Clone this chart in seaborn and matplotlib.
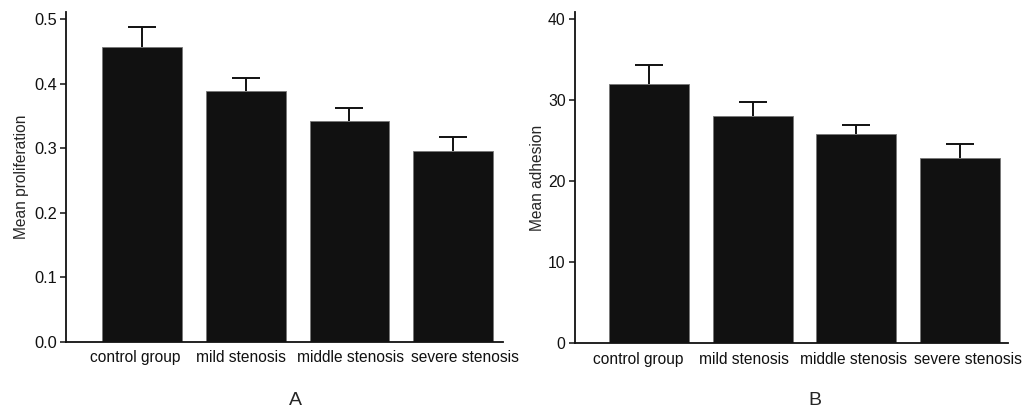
import numpy as np
import pandas as pd
import matplotlib
matplotlib.use("Agg")
import matplotlib.pyplot as plt
import matplotlib.transforms as mtransforms
import seaborn as sns

categories = ["control group", "mild stenosis", "middle stenosis", "severe stenosis"]
prolif_mean = [0.457, 0.388, 0.342, 0.295]
prolif_err = [0.031, 0.021, 0.021, 0.023]
adhes_mean = [32.0, 28.0, 25.8, 22.9]
adhes_err = [2.3, 1.8, 1.2, 1.7]
yticks_a = [0.0, 0.1, 0.2, 0.3, 0.4, 0.5]
yticks_b = [0, 10, 20, 30, 40]

sns.set_theme(style="ticks")
plt.rcParams['font.family'] = ['Liberation Sans', 'DejaVu Sans']

fig = plt.figure(figsize=(10.25, 4.11), dpi=100)
ax1 = fig.add_axes([0.0644, 0.168, 0.4263, 0.803])
ax2 = fig.add_axes([0.5607, 0.165, 0.4224, 0.806])

bar_color = "#111111"

def panel(ax, means, errs, ylabel, yticks, ytop, xlim, fmt, letter, letter_x,
          lpad, label_shift, ytick_fs):
    df = pd.DataFrame({"cat": categories, "val": means})
    sns.barplot(data=df, x="cat", y="val", color=bar_color, width=0.77,
                saturation=1, edgecolor="#777777", linewidth=0.6, ax=ax, errorbar=None,
                zorder=2)
    x = np.arange(len(categories))
    m = np.asarray(means)
    e = np.asarray(errs)
    ax.errorbar(x, m, yerr=[np.zeros(len(e)), e], fmt="none",
                ecolor="#111111", elinewidth=1.4, capsize=0, zorder=1)
    ax.plot(x, m + e, linestyle="none", marker="_", markersize=19.5,
            markeredgewidth=1.4, color="#111111", zorder=1)
    ax.set_ylim(0, ytop)
    ax.set_xlim(*xlim)
    ax.set_yticks(yticks)
    ax.set_yticklabels([fmt.format(t) for t in yticks], fontsize=ytick_fs)
    ax.set_xticklabels([])
    base = ax.get_xaxis_transform()
    for i, (cat, dx) in enumerate(zip(categories, label_shift)):
        tr = base + mtransforms.ScaledTranslation(dx / 100, -8.5 / 100, fig.dpi_scale_trans)
        ax.text(i, 0, cat, transform=tr, ha="center", va="top", fontsize=11.2,
                color="#111111")
    ax.set_xlabel("")
    ax.set_ylabel(ylabel, fontsize=11.2, labelpad=lpad)
    for s in ["top", "right"]:
        ax.spines[s].set_visible(False)
    for s in ["left", "bottom"]:
        ax.spines[s].set_linewidth(1.3)
        ax.spines[s].set_color("#111111")
    ax.tick_params(axis="x", length=0, colors="#111111")
    ax.tick_params(axis="y", length=4.5, width=1.1, pad=2, direction="out", colors="#111111")
    fig.text(letter_x, 1 - 400 / 411, letter, fontsize=14, ha="center", va="center")

panel(ax1, prolif_mean, prolif_err, "Mean proliferation", yticks_a, 0.511,
      (-0.733, 3.48), "{:.1f}", "A", 295 / 1025, 4, [-7, -5, 1, 12], 11.8)
panel(ax2, adhes_mean, adhes_err, "Mean adhesion", yticks_b, 40.9,
      (-0.716, 3.459), "{:.0f}", "B", 815 / 1025, 2, [-11, -9, -3, 8], 11.3)

fig.savefig("out.png", dpi=100)
